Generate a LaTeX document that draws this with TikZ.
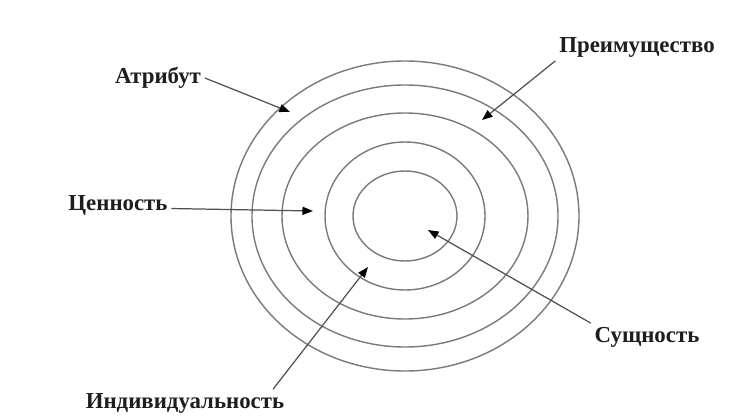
\documentclass[tikz,border=0pt]{standalone}
\usepackage{fontspec}
\setmainfont{Liberation Serif}
\usepackage{tikz}
\usetikzlibrary{arrows.meta}
\definecolor{ring}{HTML}{7A7A7A}
\definecolor{inksoft}{HTML}{505050}
\definecolor{ink}{HTML}{1E1E1E}

\begin{document}
\begin{tikzpicture}[x=1cm, y=1cm, line join=round,
    lbl/.style={font=\fontsize{13}{15}\selectfont\bfseries, text=ink, inner sep=2pt},
    ringline/.style={ring, line width=0.8pt},
    ar/.style={-{Triangle[length=6pt, width=4.6pt, color=black]}, line width=0.7pt, inksoft}]
  \useasboundingbox (0,0) rectangle (14.68,8.36);
  % concentric rings
  \draw[ringline] (8.10,4.04) ellipse [x radius=3.48, y radius=3.10];
  \draw[ringline] (8.10,4.04) ellipse [x radius=3.06, y radius=2.62];
  \draw[ringline] (8.10,4.04) ellipse [x radius=2.46, y radius=2.06];
  \draw[ringline] (8.10,4.04) ellipse [x radius=1.60, y radius=1.48];
  \draw[ringline] (8.10,4.04) ellipse [x radius=1.04, y radius=0.90];
  % labels
  \node[lbl] (attr) at (3.16,6.80)  {Атрибут};
  \node[lbl] (pref) at (12.74,7.42) {Преимущество};
  \node[lbl] (val)  at (2.36,4.26)  {Ценность};
  \node[lbl] (ind)  at (3.70,0.30)  {Индивидуальность};
  \node[lbl] (ess)  at (12.94,1.62) {Сущность};
  % arrow tips inside the rings
  \coordinate (attrtip) at (5.80,6.12);
  \coordinate (preftip) at (9.64,5.96);
  \coordinate (valtip)  at (6.26,4.14);
  \coordinate (indtip)  at (7.36,3.02);
  \coordinate (esstip)  at (8.56,3.76);
  \draw[ar] (attr.east) -- (attrtip);
  \draw[ar] (pref.south west) -- (preftip);
  \draw[ar] ([yshift=-2pt]val.east) -- (valtip);
  \draw[ar] ([xshift=-0.3cm]ind.north east) -- (indtip);
  \draw[ar] (ess.north west) -- (esstip);
\end{tikzpicture}
\end{document}
